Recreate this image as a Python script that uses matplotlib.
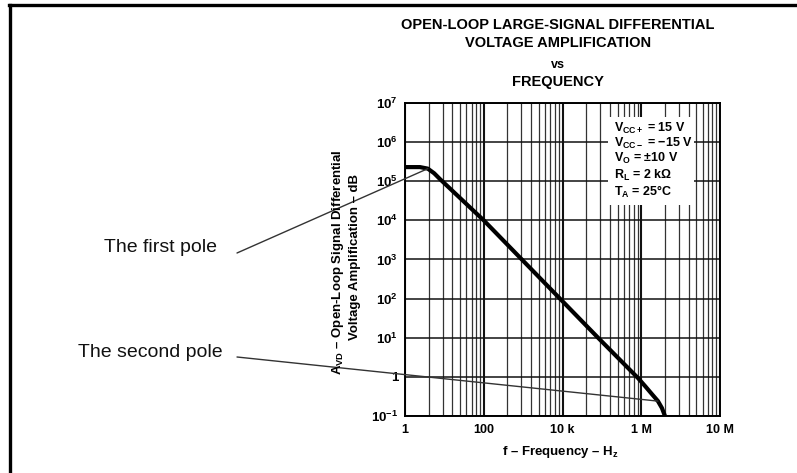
import numpy as np
import matplotlib
matplotlib.use('Agg')
import matplotlib.pyplot as plt
from matplotlib.ticker import FixedLocator, NullLocator
from matplotlib.patches import Rectangle
from matplotlib.lines import Line2D

# gain curve
freq = [1, 2.4, 3.8, 5.5, 7.7, 100, 8e4, 8.3e5, 1.12e6, 1.37e6, 1.63e6, 1.83e6, 2.0e6]
gain = [2.3e5, 2.3e5, 2.1e5, 1.6e5, 1.14e5, 1e4, 10, 0.93, 0.58, 0.36, 0.24, 0.16, 0.1]

# where the annotation lines end
pole1 = (3.8, 2.1e5)
pole2 = (1.63e6, 0.24)

x_ticks = [1, 100, 1e4, 1e6, 1e7]
x_labels = ['1', '100', '10 k', '1 M', '10 M']
y_ticks = [1e-1, 1, 1e1, 1e2, 1e3, 1e4, 1e5, 1e6, 1e7]
y_labels = [r'$\mathrm{10^{-1}}$', '1', r'$\mathrm{10^{1}}$', r'$\mathrm{10^{2}}$',
            r'$\mathrm{10^{3}}$', r'$\mathrm{10^{4}}$', r'$\mathrm{10^{5}}$',
            r'$\mathrm{10^{6}}$', r'$\mathrm{10^{7}}$']
conditions = [r'$\mathrm{V_{CC+}}$ = 15 V', r'$\mathrm{V_{CC-}}$ = −15 V',
              r'$\mathrm{V_O}$ = ±10 V', r'$\mathrm{R_L}$ = 2 kΩ', r'$\mathrm{T_A}$ = 25°C']

plt.rcParams['font.family'] = ['Liberation Sans', 'DejaVu Sans']
plt.rcParams['mathtext.fontset'] = 'custom'
plt.rcParams['mathtext.rm'] = 'Liberation Sans:bold'
plt.rcParams['mathtext.it'] = 'Liberation Sans:bold:italic'
plt.rcParams['mathtext.bf'] = 'Liberation Sans:bold'
plt.rcParams['mathtext.default'] = 'rm'


# the printed axis: 1 -> 1M is two decades per division, 1M -> 10M is one
def fwd(f):
    lf = np.log10(np.maximum(f, 1e-300))
    return np.where(lf <= 6, lf / 2, lf - 3)


def inv(p):
    p = np.asarray(p, dtype=float)
    return np.where(p <= 3, 10 ** (2 * p), 10 ** (p + 3))


fig = plt.figure(figsize=(7.97, 4.73), dpi=100)
ax = fig.add_axes([405 / 797, 57 / 473, 315 / 797, 313 / 473])
ax.set_xscale('function', functions=(fwd, inv))
ax.set_yscale('log')
ax.set_xlim(1, 1e7)
ax.set_ylim(1e-1, 1e7)

# minor grid: 2..9 pattern inside every division
minor = []
for i in range(4):
    for k in range(2, 10):
        minor.append(100 ** i * k ** 2 if i < 3 else 1e6 * k)
ax.xaxis.set_major_locator(FixedLocator(x_ticks))
ax.xaxis.set_minor_locator(FixedLocator(minor))
ax.set_xticklabels(x_labels, fontsize=9, fontweight='bold')
ax.yaxis.set_major_locator(FixedLocator(y_ticks))
ax.yaxis.set_minor_locator(NullLocator())
ax.set_yticklabels(y_labels, fontsize=9.5, fontweight='bold')
ax.tick_params(which='both', length=0)
ax.tick_params(axis='x', pad=6)
ax.tick_params(axis='y', pad=5)

ax.grid(True, which='major', axis='x', color='#111111', lw=1.5)
ax.grid(True, which='minor', axis='x', color='#333333', lw=0.9)
ax.grid(True, which='major', axis='y', color='#111111', lw=1.1)
for s in ax.spines.values():
    s.set_linewidth(1.4)

ax.plot(freq, gain, color='black', lw=3, solid_capstyle='butt', zorder=4)

# conditions box
ax.add_patch(Rectangle((0.644, 0.674), 0.272, 0.281, transform=ax.transAxes,
                       facecolor='white', edgecolor='none', zorder=2.5))
for txt, yy in zip(conditions, [0.920, 0.872, 0.824, 0.767, 0.716]):
    ax.text(0.662, yy, txt, transform=ax.transAxes, fontsize=9, fontweight='bold',
            va='center', ha='left', zorder=3)

# title
fig.text(0.700, 0.947, 'OPEN-LOOP LARGE-SIGNAL DIFFERENTIAL', ha='center', va='center',
         fontsize=10.5, fontweight='bold')
fig.text(0.700, 0.909, 'VOLTAGE AMPLIFICATION', ha='center', va='center',
         fontsize=10.5, fontweight='bold')
fig.text(0.700, 0.863, 'vs', ha='center', va='center', fontsize=9, fontweight='bold')
fig.text(0.700, 0.827, 'FREQUENCY', ha='center', va='center', fontsize=10.5, fontweight='bold')

# axis labels
fig.text(338 / 797, (473 - 375) / 473, r'$\mathrm{A_{VD}}$ – Open-Loop Signal Differential',
         rotation=90, ha='center', va='bottom', fontsize=9.5, fontweight='bold')
fig.text(355 / 797, (473 - 340) / 473, 'Voltage Amplification – dB',
         rotation=90, ha='center', va='bottom', fontsize=9.5, fontweight='bold')
fig.text(0.7026, 0.0444, r'f – Frequency – $\mathrm{H_z}$', ha='center', va='center',
         fontsize=9.5, fontweight='bold')

# pole annotations
fig.text(217 / 797, (473 - 248) / 473, 'The first pole', ha='right', va='center',
         fontsize=14, color='#111111')
fig.text(223 / 797, (473 - 352) / 473, 'The second pole', ha='right', va='center',
         fontsize=14, color='#111111')
ax.annotate('', xy=pole1, xycoords='data', xytext=(237, 473 - 253), textcoords='figure pixels',
            arrowprops=dict(arrowstyle='-', color='#333333', lw=1.0, shrinkA=0, shrinkB=0),
            annotation_clip=False, zorder=5)
ax.annotate('', xy=pole2, xycoords='data', xytext=(237, 473 - 357), textcoords='figure pixels',
            arrowprops=dict(arrowstyle='-', color='#333333', lw=1.0, shrinkA=0, shrinkB=0),
            annotation_clip=False, zorder=5)

# frame around the picture (top and left edge only)
fig.add_artist(Line2D([9 / 797, 1], [1 - 5 / 473] * 2, transform=fig.transFigure,
                      color='black', lw=2.4))
fig.add_artist(Line2D([10 / 797] * 2, [0, 1 - 5 / 473], transform=fig.transFigure,
                      color='black', lw=2.4))

fig.savefig('out.png', dpi=100)
